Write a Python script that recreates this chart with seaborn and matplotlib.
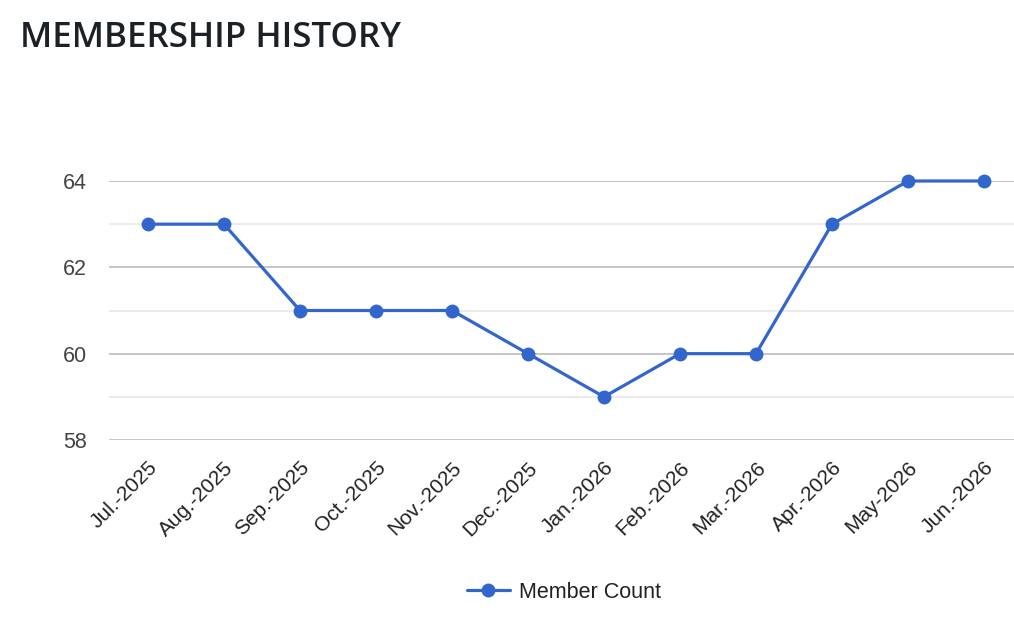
import numpy as np
import pandas as pd
import matplotlib
matplotlib.use("Agg")
import matplotlib.pyplot as plt
import seaborn as sns

# membership counts per month
months = ["Jul.-2025", "Aug.-2025", "Sep.-2025", "Oct.-2025", "Nov.-2025", "Dec.-2025",
          "Jan.-2026", "Feb.-2026", "Mar.-2026", "Apr.-2026", "May-2026", "Jun.-2026"]
counts = [63, 63, 61, 61, 61, 60, 59, 60, 60, 63, 64, 64]
y_ticks = [58, 60, 62, 64]
y_minor = [59, 61, 63]

df = pd.DataFrame({"pos": np.arange(len(months)), "Member Count": counts})

sns.set_style("white")
plt.rcParams["font.family"] = ["Liberation Sans", "DejaVu Sans"]

fig = plt.figure(figsize=(10.14, 6.22), dpi=100)
ax = fig.add_axes([0.1075, 0.2926, 0.8925, 0.4164])

blue = "#3366CC"
sns.lineplot(data=df, x="pos", y="Member Count", ax=ax, color=blue, linewidth=2.3,
             marker="o", markersize=10, markeredgewidth=0, label="Member Count",
             clip_on=False, zorder=5)

ax.set_xlim(-0.513, 11.395)
ax.set_ylim(58, 64)
ax.set_yticks(y_ticks)
ax.set_yticks(y_minor, minor=True)
ax.grid(axis="y", which="major", color="#c6c6c6", linewidth=1.4)
ax.grid(axis="y", which="minor", color="#ebebeb", linewidth=1.4)
ax.set_axisbelow(True)
for s in ax.spines.values():
    s.set_visible(False)

ax.set_xticks(df["pos"])
ax.set_xticklabels(months, rotation=45, ha="right", rotation_mode="anchor")
ax.tick_params(axis="x", length=0, pad=13, labelsize=15, labelcolor="#222222")
ax.tick_params(axis="y", which="both", length=0, pad=16, labelsize=15.5, labelcolor="#444444")
ax.set_xlabel("")
ax.set_ylabel("")

# legend centred under the plot area, not the whole figure
leg = ax.legend(loc="center", bbox_to_anchor=(0.556, 0.048), bbox_transform=fig.transFigure,
                frameon=False, fontsize=15.5, handlelength=2.0, handletextpad=0.4)
for t in leg.get_texts():
    t.set_color("#222222")

fig.text(0.0197, 0.925, "MEMBERSHIP HISTORY", fontsize=25.2, fontweight="semibold",
         family=["Open Sans", "DejaVu Sans"], color="#1c2126", ha="left", va="baseline")

fig.savefig("out.png", dpi=100)
